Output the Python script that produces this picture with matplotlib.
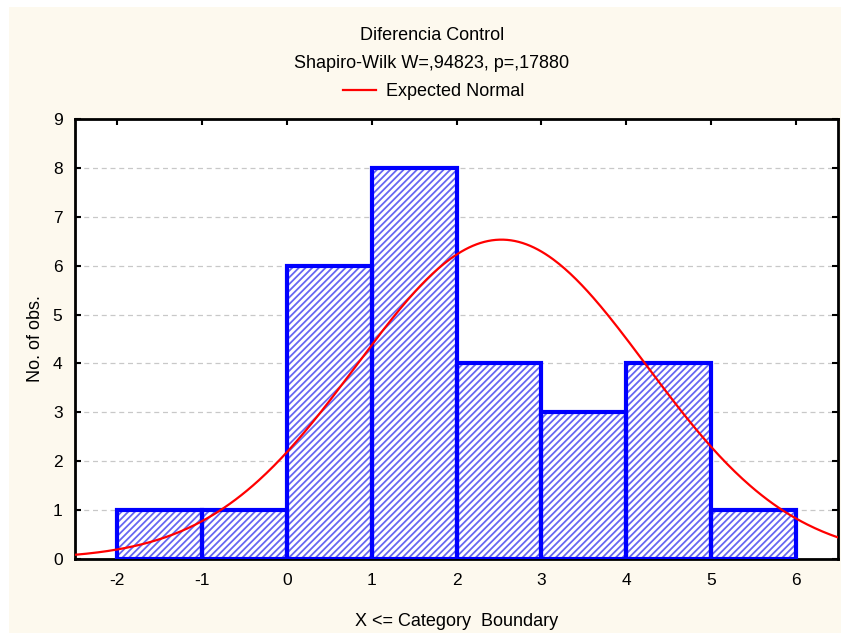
"""Histogram of 'Diferencia Control' with expected normal curve."""
import numpy as np
import matplotlib
matplotlib.use("Agg")
import matplotlib.pyplot as plt
from matplotlib.patches import Rectangle

# category boundaries and counts
bin_edges = [-2, -1, 0, 1, 2, 3, 4, 5, 6]
counts = [1, 1, 6, 8, 4, 3, 4, 1]

# parameters of the expected normal curve
mean = 2.53
sd = 1.71
n_obs = 28

x_ticks = [-2, -1, 0, 1, 2, 3, 4, 5, 6]
y_ticks = [0, 1, 2, 3, 4, 5, 6, 7, 8, 9]

plt.rcParams["font.family"] = ["Liberation Sans", "DejaVu Sans"]
plt.rcParams["axes.unicode_minus"] = False
plt.rcParams["hatch.linewidth"] = 1.3

fig = plt.figure(figsize=(8.41, 6.35), dpi=100, facecolor="white")
fig.patches.append(Rectangle((9 / 841, 2 / 635), 832 / 841, 626 / 635,
                             transform=fig.transFigure, facecolor="#fdf9ee",
                             edgecolor="none", zorder=-1))
ax = fig.add_axes([75 / 841, 76 / 635, 763 / 841, 440 / 635])
ax.set_facecolor("white")

lefts = np.array(bin_edges[:-1])
widths = np.diff(bin_edges)
# hatched fill, then solid blue outline on top
ax.bar(lefts, counts, width=widths, align="edge", color="white",
       edgecolor="#6666f2", hatch="/////", linewidth=0, zorder=2)
ax.bar(lefts, counts, width=widths, align="edge", fill=False,
       edgecolor="#0000ff", linewidth=3, zorder=3)

xs = np.linspace(-2.5, 6.5, 400)
bw = 1.0
ys = n_obs * bw / (sd * np.sqrt(2 * np.pi)) * np.exp(-0.5 * ((xs - mean) / sd) ** 2)
line, = ax.plot(xs, ys, color="#ff0000", linewidth=1.6, zorder=4,
                label="Expected Normal")

ax.set_xlim(-2.5, 6.5)
ax.set_ylim(0, 9)
ax.set_xticks(x_ticks)
ax.set_yticks(y_ticks)
ax.tick_params(direction="in", length=4, width=1.5, labelsize=12.5,
               top=True, right=True)
ax.tick_params(axis="x", pad=10)
ax.tick_params(axis="y", pad=9)
ax.yaxis.grid(True, linestyle=(0, (4, 3)), color="#c8c8c8", linewidth=0.9)
ax.set_axisbelow(True)
for side in ax.spines.values():
    side.set_linewidth(2)
    side.set_color("black")

ax.set_xlabel("X <= Category  Boundary", fontsize=13, labelpad=18)
ax.set_ylabel("No. of obs.", fontsize=13, labelpad=6)

cx = 432 / 841
fig.text(cx, 1 - 35 / 635, "Diferencia Control", ha="center", va="center",
         fontsize=13)
fig.text(cx, 1 - 63 / 635, "Shapiro-Wilk W=,94823, p=,17880", ha="center",
         va="center", fontsize=13)
fig.legend(handles=[line], loc="center", bbox_to_anchor=(cx + 2 / 841, 1 - 92 / 635),
           frameon=False, fontsize=13, handlelength=1.8, handletextpad=0.6)

fig.savefig("out.png", dpi=100, facecolor=fig.get_facecolor())
